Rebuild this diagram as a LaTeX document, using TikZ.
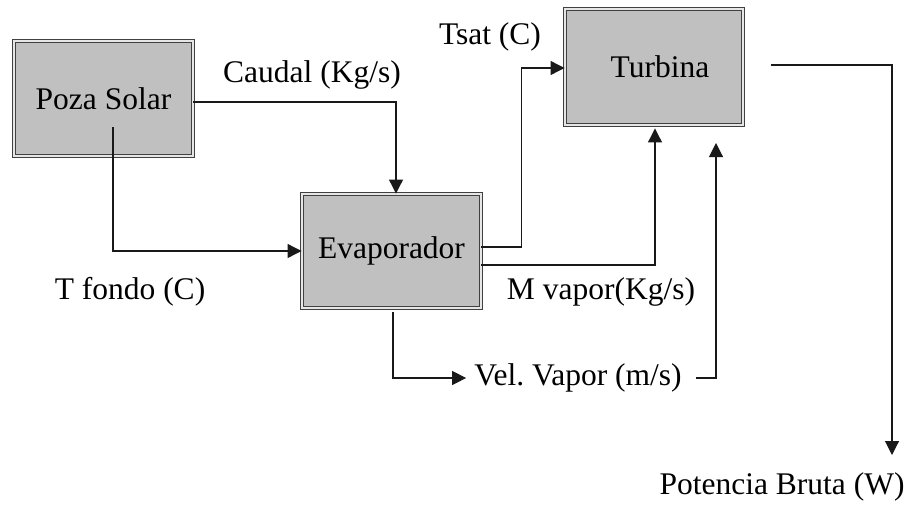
\documentclass[tikz,border=0pt]{standalone}
\usepackage{fontspec}
\setmainfont{Liberation Serif}
\usetikzlibrary{arrows.meta}
\definecolor{relleno}{HTML}{C0C0C0}
\definecolor{borde}{HTML}{404040}
\tikzset{
  bloque/.style={draw=borde,double=relleno!40,double distance=1.6pt,line width=0.9pt,
    fill=relleno,inner sep=0pt},
  etiqueta/.style={inner sep=0pt},
  flecha/.style={draw=black!90,line width=1.1pt,-{Triangle[length=14pt,width=14pt]}},
  linea/.style={draw=black!90,line width=1.1pt}
}
\def\texto{\fontsize{31.5}{36}\selectfont}
\begin{document}
\begin{tikzpicture}[x=1pt,y=-1pt,font=\texto]
\useasboundingbox (0,0) rectangle (910,504);
% bloques
\node[bloque,minimum width=179pt,minimum height=115pt] (poza) at (103.5,98.5) {Poza Solar};
\node[bloque,minimum width=179pt,minimum height=114pt] (evap) at (391.5,251) {Evaporador};
\node[bloque,minimum width=178pt,minimum height=116pt] (turb) at (654,67) {\hspace{12pt}Turbina};
% etiquetas
\node[etiqueta] (caudal) at (312,75) {Caudal (Kg/s)};
\node[etiqueta] (tfondo) at (130,292) {T fondo (C)};
\node[etiqueta] (mvapor) at (601,292) {M vapor(Kg/s)};
\node[etiqueta] (tsat) at (490,37) {Tsat (C)};
\node[etiqueta] (velvapor) at (578,378) {Vel.\ Vapor (m/s)};
\node[etiqueta] (potencia) at (782,487) {Potencia Bruta (W)};
% puntos libres
\coordinate (pozaout) at (113,127);
\coordinate (turbout) at (771,65);
\coordinate (potin) at (892,455);
\coordinate (turbin) at (716,143);
% conexiones
\draw[flecha] ([yshift=-3.5pt]poza.east) -| ([xshift=4.5pt]evap.north);
\draw[flecha] (pozaout) |- (evap.west);
\draw[flecha] ([yshift=4pt]evap.east) -- ++(40,0) |- ([yshift=-1pt]turb.west);
\draw[flecha] ([yshift=-14pt]evap.east) -| ([xshift=1pt,yshift=-3pt]turb.south);
\draw[flecha] (turbout) -| (potin);
\draw[flecha] ([xshift=1.5pt,yshift=-4pt]evap.south) |- ([xshift=-8pt]velvapor.west);
\draw[flecha] ([xshift=14pt]velvapor.east) -| (turbin);
\end{tikzpicture}
\end{document}
